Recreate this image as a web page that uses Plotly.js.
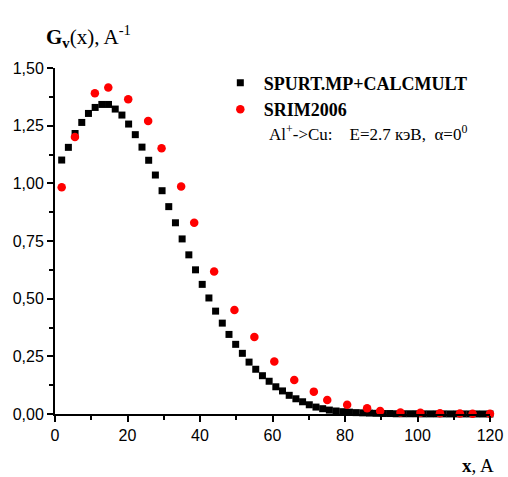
<!DOCTYPE html>
<html>
<head>
<meta charset="utf-8">
<script src="https://cdn.plot.ly/plotly-3.0.1.min.js"></script>
<style>html,body{margin:0;padding:0;background:#fff;}#chart{width:508px;height:477px;}</style>
</head>
<body>
<div id="chart"></div>
<script>
// SPURT.MP+CALCMULT (black squares), step ~1.846 A
const spurtStep = 1.846;
const spurtY = [1.101,1.156,1.216,1.264,1.303,1.329,1.342,1.342,1.322,1.296,1.257,1.211,1.157,1.100,1.036,0.968,0.899,0.829,0.759,0.690,0.625,0.562,0.503,0.446,0.394,0.345,0.302,0.263,0.225,0.194,0.166,0.142,0.118,0.100,0.081,0.066,0.053,0.040,0.030,0.023,0.017,0.013,0.010,0.008,0.006,0.005,0.004,0.003,0.002,0.002,0.001,0.001,0.001,0.001,0.0005,0.0005,0.0005,0.0005,0.0003,0.0003,0.0003,0.0002,0.0002,0.0001,0.0001];
const spurtX = spurtY.map((v,i)=>+(spurtStep*(i+1)).toFixed(3));

// SRIM2006 (red circles)
const srimX = [1.85,5.5,11.0,14.7,20.2,25.7,29.4,34.8,38.4,43.9,49.5,55.0,60.5,66.0,71.4,75.1,80.6,86.1,89.7,95.3,100.8,106.2,111.7,115.2,120.0];
const srimY = [0.983,1.201,1.391,1.415,1.365,1.270,1.152,0.986,0.829,0.618,0.451,0.334,0.228,0.147,0.097,0.061,0.040,0.025,0.013,0.007,0.005,0.003,0.002,0.001,0.001];

const yTickVals = [0,0.25,0.5,0.75,1.0,1.25,1.5];
const yTickText = ['0,00','0,25','0,50','0,75','1,00','1,25','1,50'];
const xTickVals = [0,20,40,60,80,100,120];
const xTickText = ['0','20','40','60','80','100','120'];

const serif = 'Liberation Serif, Times New Roman, serif';
const sans = 'Liberation Sans, Arial, sans-serif';

const traces = [
  {x: spurtX, y: spurtY, type:'scatter', mode:'markers', name:'<b>SPURT.MP+CALCMULT</b>',
   marker:{symbol:'square', size:7, color:'#000000'}, cliponaxis:false},
  {x: srimX, y: srimY, type:'scatter', mode:'markers', name:'<b>SRIM2006</b>',
   marker:{symbol:'circle', size:8.5, color:'#ff0000'}, cliponaxis:false}
];

const layout = {
  width:508, height:477,
  margin:{l:55, r:18, t:68, b:63},
  paper_bgcolor:'#fff', plot_bgcolor:'#fff',
  showlegend:true,
  legend:{x:0.372, y:1.01, xanchor:'left', yanchor:'top', bgcolor:'rgba(0,0,0,0)',
          font:{family:serif, size:18, color:'#000'}, itemwidth:37, tracegroupgap:0},
  xaxis:{range:[0,120], tickvals:xTickVals, ticktext:xTickText, showgrid:false, zeroline:false,
         showline:true, linecolor:'#000', linewidth:2, ticks:'outside', ticklen:6, tickwidth:2, tickcolor:'#000',
         tickfont:{family:sans, size:16, color:'#000'},
         minor:{tickvals:[10,30,50,70,90,110], ticks:'outside', ticklen:4, tickwidth:2, tickcolor:'#000', showgrid:false}},
  yaxis:{range:[0,1.5], tickvals:yTickVals, ticktext:yTickText, showgrid:false, zeroline:false,
         showline:true, linecolor:'#000', linewidth:2, ticks:'outside', ticklen:6, tickwidth:2, tickcolor:'#000',
         tickfont:{family:sans, size:16, color:'#000'},
         minor:{tickvals:[0.125,0.375,0.625,0.875,1.125,1.375], ticks:'outside', ticklen:4, tickwidth:2, tickcolor:'#000', showgrid:false}},
  annotations:[
    {xref:'paper', yref:'paper', x:0.078, y:1.09, xanchor:'center', yanchor:'middle', showarrow:false,
     text:'<b>G<sub>v</sub></b>(x), A<sup>-1</sup>', font:{family:serif, size:21, color:'#000'}},
    {xref:'paper', yref:'paper', x:0.972, y:-0.150, xanchor:'center', yanchor:'middle', showarrow:false,
     text:'<b>x</b>, A', font:{family:serif, size:19, color:'#000'}},
    {xref:'paper', yref:'paper', x:0.487, y:0.812, xanchor:'left', yanchor:'middle', showarrow:false,
     text:'Al<sup>+</sup>->Cu:\u00a0\u00a0\u00a0\u00a0E=2.7 кэВ,\u00a0\u00a0α=0<sup>0</sup>', font:{family:serif, size:17, color:'#000'}}
  ]
};

Plotly.newPlot('chart', traces, layout, {displayModeBar:false, staticPlot:true});
</script>
</body>
</html>
